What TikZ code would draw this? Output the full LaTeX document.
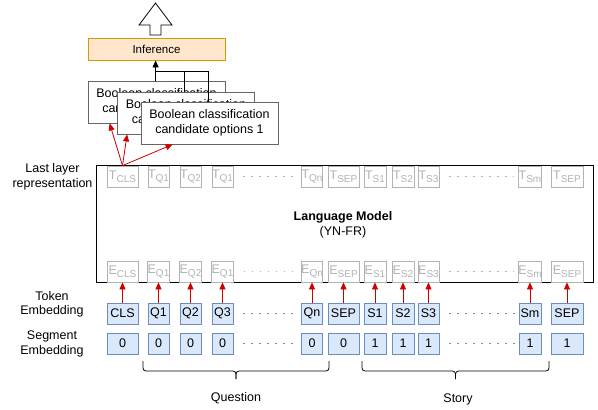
\documentclass[tikz,border=0pt]{standalone}
\usepackage{fontspec}
\setmainfont{Liberation Sans}
\usetikzlibrary{arrows.meta,calc}
\definecolor{redc}{HTML}{D00000}
\definecolor{tokfill}{HTML}{DAE8FC}
\definecolor{tokdraw}{HTML}{6C8EBF}
\definecolor{infill}{HTML}{FFE6CC}
\definecolor{indraw}{HTML}{D79B00}
\definecolor{grayc}{HTML}{B3B3B3}
\definecolor{boxgray}{HTML}{666666}
\newcommand{\tsubx}[2]{#1\raisebox{-2.5pt}{\fontsize{10}{10}\selectfont #2}}
\begin{document}
\begin{tikzpicture}[x=1pt,y=-1pt,
  font=\fontsize{12.5}{14.5}\selectfont,
  tok/.style={draw=tokdraw, fill=tokfill, minimum height=21pt, inner sep=0pt, line width=0.8pt},
  gcell/.style={draw=grayc, fill=white, text=grayc, minimum height=21pt, inner sep=0pt, line width=0.8pt},
  boolbox/.style={draw=boxgray, fill=white, minimum width=137pt, minimum height=42pt, align=center, inner sep=0pt, line width=0.8pt},
  redarrow/.style={draw=redc, line width=0.8pt, -{Triangle[width=6pt,length=7pt]}},
  blackarrow/.style={draw=black, line width=0.8pt, -{Triangle[width=6pt,length=7pt]}},
  conn/.style={draw=black, line width=0.8pt},
  gdots/.style={draw=grayc, line width=1.5pt, dash pattern=on 1.5pt off 6.5pt},
  bdots/.style={draw=tokdraw, line width=1.5pt, dash pattern=on 1.5pt off 6.5pt},
  bracestyle/.style={draw=black, line width=0.8pt, rounded corners=3pt}]
\useasboundingbox (0,0) rectangle (598,410);

% top block arrow
\draw[fill=white, line width=0.8pt] (150,35) -- (150,25) -- (139,25) -- (155.5,3) -- (172,25) -- (161,25) -- (161,35) -- cycle;

% inference
\node[draw=indraw, fill=infill, minimum width=137pt, minimum height=22pt, inner sep=0pt, line width=0.8pt,
      font=\fontsize{11.5}{14}\selectfont] (inf) at (156.5,49) {Inference};

% boolean boxes
\node[boolbox] (b1) at (156.5,102) {Boolean classification\\candidate options 1};
\node[boolbox] (b2) at (186,113) {Boolean classification\\candidate options 1};
\node[boolbox] (b3) at (209.5,123) {Boolean classification\\candidate options 1};

% tree connectors
\coordinate (j) at (156,71);
\draw[blackarrow] ([xshift=68pt]b1.north west) -- ([xshift=68pt]inf.south west);
\draw[conn] ([xshift=67pt]b2.north west) |- (j);
\draw[conn] ([xshift=68pt]b3.north west) |- (j);

% language model
\node[draw, line width=0.8pt, minimum width=497pt, minimum height=116.5pt, inner sep=0pt] (lm) at (344.5,223.75) {};
\node[align=center] (lmlabel) at (343,225) {\textbf{Language Model}\\(YN-FR)};

% side labels
\node[align=center] (lbl1) at (52.5,177) {Last layer\\representation};
\node[align=center] (lbl2) at (52,304.5) {Token\\Embedding};
\node[align=center] (lbl3) at (52,344) {Segment\\Embedding};

% cells
\foreach \n/\x/\w/\tk/\sg/\tl in {1/122.5/31/CLS/0/CLS, 2/158.5/21/Q1/0/Q1, 3/190.5/21/Q2/0/Q2, 4/222.5/21/Q3/0/Q1,
  5/312/21/Qn/0/Qn, 6/343.5/31/SEP/0/SEP, 7/375/22/S1/1/S1, 8/403/22/S2/1/S2, 9/428.5/21/S3/1/S3,
  10/530/22/Sm/1/Sm, 11/567/32/SEP/1/SEP}{
  \node[gcell, minimum width=\w pt] (t\n) at (\x,176.5) {\tsubx{T}{\tl}};
  \node[gcell, minimum width=\w pt] (e\n) at (\x,271.5) {\tsubx{E}{\tl}};
  \node[tok, minimum width=\w pt] (k\n) at (\x,313.5) {\tk};
  \node[tok, minimum width=\w pt] (s\n) at (\x,343.5) {\sg};
  \draw[redarrow] (k\n.north) -- (e\n.south);
}

% dotted gaps
\foreach \r in {t,e}{
  \draw[gdots] ($(\r4.east)+(10,0)$) -- ($(\r5.west)+(-4,0)$);
  \draw[gdots] ($(\r9.east)+(10,0)$) -- ($(\r10.west)+(-4,0)$);
}
\foreach \r in {k,s}{
  \draw[bdots] ($(\r4.east)+(10,0)$) -- ($(\r5.west)+(-4,0)$);
  \draw[bdots] ($(\r9.east)+(10,0)$) -- ($(\r10.west)+(-4,0)$);
}

% red arrows to boolean boxes
\draw[redarrow] (t1.north) -- ([xshift=22pt]b1.south west);
\draw[redarrow] (t1.north) -- ([xshift=10pt]b2.south west);
\draw[redarrow] (t1.north) -- ([xshift=32pt]b3.south west);

% braces
\coordinate (qtip) at (236,379);
\coordinate (stip) at (455.5,379);
\draw[bracestyle] (143,361) -- (143,371) -| (qtip);
\draw[bracestyle] (329,361) -- (329,371) -| (qtip);
\draw[bracestyle] (362,361) -- (362,371) -| (stip);
\draw[bracestyle] (549,361) -- (549,371) -| (stip);
\node (qlabel) at (236,398) {Question};
\node (slabel) at (458,399) {Story};
\end{tikzpicture}
\end{document}
